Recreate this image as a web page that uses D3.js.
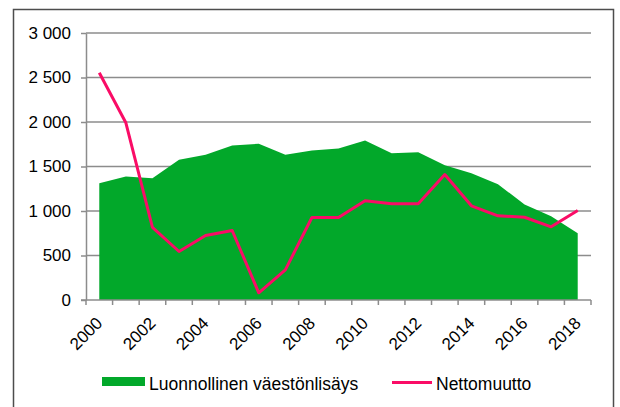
<!DOCTYPE html>
<html>
<head>
<meta charset="utf-8">
<script src="https://cdn.jsdelivr.net/npm/d3@7/dist/d3.min.js"></script>
<style>
  body { margin: 0; background: #fff; }
  svg { display: block; font-family: "Liberation Sans", Arial, sans-serif; }
  .grid line { stroke: #8c8c8c; stroke-width: 1.5; }
  .axis path, .axis line { stroke: #8c8c8c; stroke-width: 1.5; }
  .axis text { fill: #000; font-size: 17px; }
  .legend-text { fill: #000; font-size: 17.5px; }
</style>
</head>
<body>
<svg width="620" height="407"></svg>
<script>
// Chart data
const years = [2000, 2001, 2002, 2003, 2004, 2005, 2006, 2007, 2008, 2009,
               2010, 2011, 2012, 2013, 2014, 2015, 2016, 2017, 2018];
const naturalGrowth = [1312, 1388, 1369, 1575, 1631, 1736, 1755, 1631, 1680, 1702,
                       1792, 1649, 1661, 1515, 1425, 1301, 1073, 942, 751];
const netMigration = [2553, 1991, 815, 545, 725, 781, 81, 339, 927, 927,
                      1115, 1081, 1081, 1410, 1058, 946, 930, 822, 1006];
const yTicks = [0, 500, 1000, 1500, 2000, 2500, 3000];
const seriesNames = ["Luonnollinen väestönlisäys", "Nettomuutto"];

const svg = d3.select("svg");

// Outer frame
svg.append("rect")
    .attr("x", 13.5)
    .attr("y", 9.5)
    .attr("width", 600)
    .attr("height", 420)
    .attr("fill", "none")
    .attr("stroke", "#4d4d4d")
    .attr("stroke-width", 1.5);

const plot = {left: 86, right: 591, top: 33, bottom: 300};

const x = d3.scaleBand()
    .domain(years)
    .range([plot.left, plot.right]);

const y = d3.scaleLinear()
    .domain([0, 3000])
    .range([plot.bottom, plot.top]);

const cx = d => x(d) + x.bandwidth() / 2;
const fmt = v => d3.format(",")(v).replace(/,/g, " ");

// Gridlines
svg.append("g")
    .attr("class", "grid")
    .selectAll("line")
    .data(yTicks.filter(t => t > 0))
    .join("line")
    .attr("x1", plot.left)
    .attr("x2", plot.right)
    .attr("y1", d => y(d))
    .attr("y2", d => y(d));

// Area: natural growth
const area = d3.area()
    .x((d, i) => cx(years[i]))
    .y0(y(0))
    .y1(d => y(d));

svg.append("path")
    .datum(naturalGrowth)
    .attr("d", area)
    .attr("fill", "#02a82a");

// Y axis
svg.append("g")
    .attr("class", "axis")
    .attr("transform", `translate(${plot.left},0)`)
    .call(d3.axisLeft(y).tickValues(yTicks).tickFormat(fmt).tickSize(5).tickPadding(10).tickSizeOuter(0));

// X axis line + boundary ticks
const xAxis = svg.append("g").attr("class", "axis");
xAxis.append("line")
    .attr("x1", plot.left - 5)
    .attr("x2", plot.right)
    .attr("y1", plot.bottom)
    .attr("y2", plot.bottom);

const bounds = years.map(d => x(d)).concat([x.range()[1]]);
xAxis.selectAll(".xtick")
    .data(bounds)
    .join("line")
    .attr("class", "xtick")
    .attr("x1", d => d)
    .attr("x2", d => d)
    .attr("y1", plot.bottom)
    .attr("y2", plot.bottom + 5);

xAxis.selectAll(".xlabel")
    .data(years.filter(d => d % 2 === 0))
    .join("text")
    .attr("class", "xlabel")
    .attr("text-anchor", "end")
    .attr("dy", "0.35em")
    .attr("transform", d => `translate(${cx(d)},${plot.bottom + 20}) rotate(-45)`)
    .text(d => d);

// Line: net migration
const line = d3.line()
    .x((d, i) => cx(years[i]))
    .y(d => y(d));

svg.append("path")
    .datum(netMigration)
    .attr("d", line)
    .attr("fill", "none")
    .attr("stroke", "#fa0c66")
    .attr("stroke-width", 3)
    .attr("stroke-linejoin", "round");

// Legend
const legend = svg.append("g");
legend.append("rect")
    .attr("x", 102)
    .attr("y", 377)
    .attr("width", 43)
    .attr("height", 9)
    .attr("fill", "#02a82a");
legend.append("text")
    .attr("class", "legend-text")
    .attr("x", 149)
    .attr("y", 390)
    .text(seriesNames[0]);
legend.append("line")
    .attr("x1", 392)
    .attr("x2", 432)
    .attr("y1", 382.5)
    .attr("y2", 382.5)
    .attr("stroke", "#fa0c66")
    .attr("stroke-width", 3);
legend.append("text")
    .attr("class", "legend-text")
    .attr("x", 436)
    .attr("y", 390)
    .text(seriesNames[1]);
</script>
</body>
</html>
